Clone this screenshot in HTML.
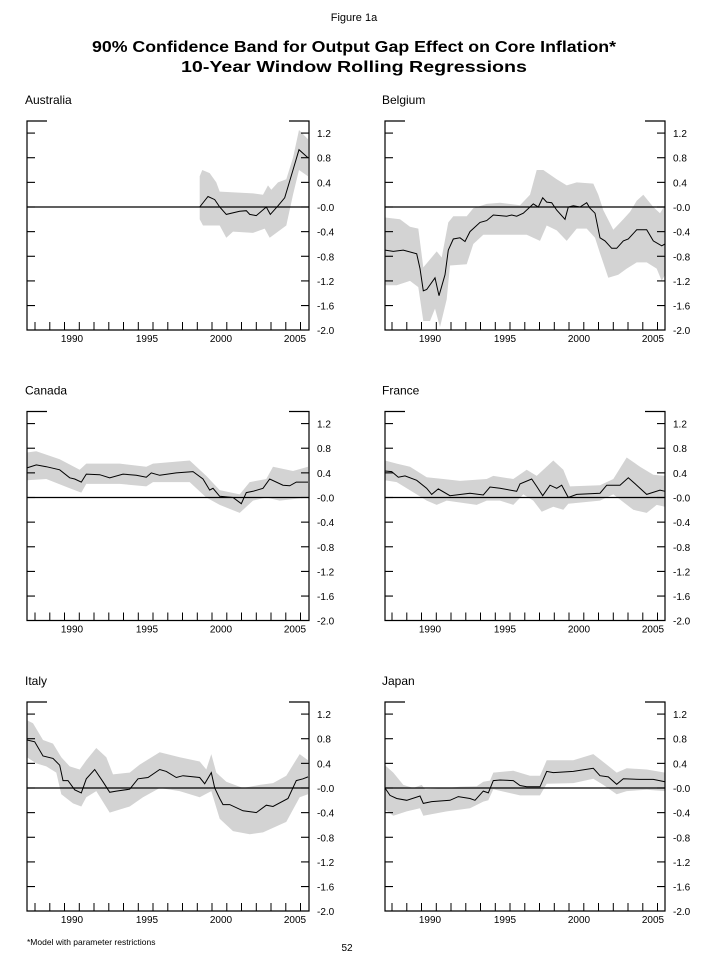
<!DOCTYPE html>
<html><head><meta charset="utf-8"><style>
html,body{margin:0;padding:0;background:#fff;}
svg{display:block;font-family:"Liberation Sans",Arial,sans-serif;}
</style></head><body>
<svg id="s" width="708" height="961" viewBox="0 0 708 961" xmlns="http://www.w3.org/2000/svg">
<text x="354" y="21" font-size="11" text-anchor="middle">Figure 1a</text>
<text x="354" y="52" font-size="16" font-weight="bold" text-anchor="middle" textLength="524" lengthAdjust="spacingAndGlyphs">90% Confidence Band for Output Gap Effect on Core Inflation*</text>
<text x="354" y="72" font-size="16" font-weight="bold" text-anchor="middle" textLength="346" lengthAdjust="spacingAndGlyphs">10-Year Window Rolling Regressions</text>
<text x="27" y="945" font-size="8.5">*Model with parameter restrictions</text>
<text x="347" y="951" font-size="10" text-anchor="middle">52</text>
</svg>
<script>
var S=document.getElementById('s'),NS='http://www.w3.org/2000/svg';
function el(t,a,txt){var e=document.createElementNS(NS,t);for(var k in a)e.setAttribute(k,a[k]);if(txt!=null)e.textContent=txt;S.appendChild(e);return e;}
var panels=[
{name:'Australia',col:0,row:0,
c:[[540,0],[565,.17],[585,.12],[600,0],[620,-.12],[660,-.07],[680,-.06],[690,-.12],[710,-.14],[740,0],[752,-.12],[775,.02],[795,.15],[820,.6],[838,.93],[865,.8]],
u:[[540,.5],[548,.6],[570,.55],[590,.4],[600,.25],[700,.22],[730,.2],[745,.35],[755,.28],[775,.4],[800,.45],[820,.8],[838,1.25],[865,1.1]],
l:[[540,-.2],[550,-.3],[600,-.3],[620,-.5],[640,-.4],[700,-.42],[735,-.35],[750,-.5],[775,-.4],[800,-.3],[820,.2],[838,.6],[865,.5]]},
{name:'Belgium',col:1,row:0,
c:[[75,-.7],[100,-.72],[130,-.7],[170,-.76],[180,-1],[190,-1.36],[200,-1.34],[225,-1.15],[237,-1.44],[255,-1.1],[265,-.7],[280,-.52],[300,-.5],[315,-.56],[330,-.4],[360,-.25],[380,-.22],[400,-.13],[440,-.15],[455,-.13],[470,-.15],[490,-.1],[520,.05],[535,0],[548,.15],[560,.08],[575,.07],[590,-.05],[615,-.2],[625,0],[640,.02],[660,0],[680,.07],[690,-.02],[705,-.1],[720,-.5],[735,-.55],[755,-.67],[770,-.67],[790,-.55],[805,-.52],[830,-.37],[860,-.37],[880,-.55],[905,-.63],[915,-.6]],
u:[[75,-.17],[120,-.2],[150,-.32],[175,-.35],[190,-.98],[230,-.72],[245,-.82],[265,-.25],[280,-.15],[320,-.15],[340,-.02],[380,.05],[420,.07],[480,.03],[510,.2],[530,.6],[550,.6],[590,.45],[620,.35],[650,.4],[700,.38],[715,.2],[730,-.05],[760,-.37],[790,-.2],[810,-.08],[830,.1],[850,.2],[880,0],[900,-.1],[915,.03]],
l:[[75,-1.27],[110,-1.27],[150,-1.2],[175,-1.3],[190,-1.85],[210,-1.85],[225,-1.65],[240,-1.95],[260,-1.5],[270,-.95],[320,-.93],[340,-.6],[370,-.45],[420,-.45],[500,-.45],[540,-.55],[560,-.3],[590,-.38],[620,-.55],[650,-.35],[680,-.35],[705,-.5],[720,-.75],[745,-1.15],[775,-1.1],[800,-1],[830,-.9],[860,-.9],[890,-1],[905,-1.2],[915,-1.1]]},
{name:'Canada',col:0,row:1,
c:[[22,.48],[50,.53],[80,.5],[120,.45],[150,.32],[165,.3],[185,.25],[200,.38],[240,.37],[270,.32],[310,.38],[350,.36],[380,.33],[395,.4],[420,.36],[470,.4],[520,.42],[550,.3],[570,.12],[580,.15],[600,.02],[640,0],[665,-.1],[680,.08],[700,.1],[730,.15],[750,.3],[790,.2],[810,.19],[830,.25],[865,.25]],
u:[[22,.73],[50,.75],[120,.62],[180,.45],[200,.55],[300,.55],[380,.5],[400,.55],[510,.6],[560,.35],[600,.12],[660,.05],[690,.25],[740,.3],[760,.5],[820,.43],[865,.5]],
l:[[22,.28],[80,.3],[150,.15],[185,.08],[200,.22],[300,.22],[380,.18],[400,.25],[510,.25],[560,0],[600,-.12],[660,-.25],[700,-.05],[740,0],[780,-.05],[865,0]]},
{name:'France',col:1,row:1,
c:[[75,.43],[95,.42],[115,.33],[135,.35],[170,.28],[200,.15],[215,.05],[235,.14],[270,.03],[330,.07],[370,.04],[390,.17],[420,.15],[470,.1],[480,.22],[515,.3],[530,.18],[548,.03],[570,.2],[590,.15],[605,.2],[625,0],[650,.05],[720,.07],[740,.2],[780,.2],[805,.32],[830,.2],[860,.05],[900,.12],[915,.1]],
u:[[75,.6],[110,.55],[150,.5],[200,.33],[250,.3],[300,.27],[380,.3],[400,.35],[460,.3],[500,.45],[530,.35],[580,.6],[610,.45],[630,.18],[720,.2],[760,.3],[800,.65],[840,.5],[880,.37],[915,.35]],
l:[[75,.28],[110,.25],[170,.05],[200,-.05],[230,-.12],[260,-.05],[350,-.12],[380,-.05],[420,-.05],[460,-.12],[490,.05],[520,-.05],[545,-.23],[580,-.15],[610,-.2],[625,-.1],[720,-.05],[760,.05],[820,-.2],[860,-.25],[890,-.12],[915,-.15]]},
{name:'Italy',col:0,row:2,
c:[[22,.78],[45,.75],[70,.52],[100,.48],[120,.37],[130,.12],[145,.12],[165,-.03],[185,-.08],[200,.15],[225,.3],[250,.1],[270,-.07],[290,-.05],[330,-.02],[355,.15],[385,.17],[420,.3],[440,.27],[470,.17],[490,.2],[540,.17],[555,.07],[575,.25],[585,0],[600,-.17],[610,-.27],[630,-.27],[670,-.37],[710,-.4],[740,-.28],[760,-.3],[805,-.17],[830,.12],[850,.15],[865,.18]],
u:[[22,1.1],[40,1.05],[70,.78],[100,.72],[125,.5],[150,.35],[180,.3],[200,.45],[230,.65],[260,.5],[280,.22],[330,.25],[360,.38],[420,.58],[480,.5],[540,.43],[560,.3],[575,.55],[590,.25],[620,.1],[670,0],[720,.05],[760,.08],[800,.2],[840,.55],[865,.45]],
l:[[22,.5],[50,.4],[80,.35],[110,.25],[125,-.1],[160,-.25],[185,-.3],[200,-.15],[230,-.05],[270,-.4],[330,-.3],[370,-.15],[420,0],[480,-.05],[540,-.15],[575,-.05],[600,-.5],[640,-.7],[690,-.75],[730,-.72],[800,-.55],[840,-.15],[865,-.1]]},
{name:'Japan',col:1,row:2,
c:[[75,0],[90,-.12],[110,-.17],[140,-.2],[180,-.13],[190,-.25],[215,-.22],[270,-.2],[295,-.14],[330,-.17],[345,-.2],[370,-.05],[385,-.08],[400,.12],[420,.13],[460,.12],[480,.04],[500,.02],[540,.02],[560,.27],[580,.25],[640,.27],[700,.32],[720,.2],[745,.18],[770,.06],[790,.15],[840,.14],[880,.14],[915,.1]],
u:[[75,.37],[100,.25],[130,.05],[160,0],[185,.05],[195,-.02],[260,0],[300,.02],[350,.03],[370,.1],[390,.12],[400,.25],[460,.28],[510,.2],[540,.2],[560,.45],[640,.45],[700,.55],[740,.38],[770,.25],[800,.32],[860,.3],[915,.25]],
l:[[75,-.35],[100,-.45],[140,-.38],[180,-.33],[190,-.45],[260,-.38],[330,-.33],[370,-.22],[385,-.2],[400,-.02],[480,-.12],[540,-.12],[560,.07],[640,.08],[700,.15],[730,.05],[770,-.1],[800,-.05],[860,-.03],[915,-.05]]}
];
var rowOff=[0,290.5,581];
var cols=[{L:27,R:309,a:22,b:868,tick0:35,lab:[72,147,221,295],nx:25},{L:385,R:665,a:75,b:915,tick0:392,lab:[430,505,579,653],nx:382}];
panels.forEach(function(p){
 var C=cols[p.col],off=rowOff[p.row],top=121+off,bot=330+off,zero=207+off;
 function X(z){return C.L+(z-C.a)/(C.b-C.a)*(C.R-C.L);}
 function Y(v){return zero-v*61.6;}
 el('text',{x:C.nx,y:104+off,'font-size':12},p.name);
 var d='M'+p.u.map(function(q){return X(q[0]).toFixed(1)+' '+Y(q[1]).toFixed(1)}).join(' L');
 d+=' L'+p.l.slice().reverse().map(function(q){return X(q[0]).toFixed(1)+' '+Y(q[1]).toFixed(1)}).join(' L')+'Z';
 el('path',{d:d,fill:'#d3d3d3',stroke:'none'});
 el('line',{x1:C.L,x2:C.R,y1:zero,y2:zero,stroke:'#000','stroke-width':1.3});
 el('polyline',{points:p.c.map(function(q){return X(q[0]).toFixed(1)+','+Y(q[1]).toFixed(1)}).join(' '),fill:'none',stroke:'#000','stroke-width':1});
 // frame
 var fr='M'+(C.L+20)+' '+top+' H'+C.L+' V'+bot+' H'+C.R+' V'+top+' H'+(C.R-20);
 el('path',{d:fr,fill:'none',stroke:'#000','stroke-width':1.2});
 for(var i=0;i<=8;i++){
  var v=1.2-0.4*i,y=Y(v);
  if(i<8){el('line',{x1:C.L,x2:C.L+8,y1:y,y2:y,stroke:'#000','stroke-width':1.1});
  el('line',{x1:C.R-8,x2:C.R,y1:y,y2:y,stroke:'#000','stroke-width':1.1});}
  var s=(v>=-0.001)?(i==5?'-0.0':v.toFixed(1)):v.toFixed(1);
  el('text',{x:C.R+8,y:y+4,'font-size':10},s);
 }
 for(var t=C.tick0;t<C.R-2;t+=14.75){el('line',{x1:t.toFixed(1),x2:t.toFixed(1),y1:bot,y2:bot-8,stroke:'#000','stroke-width':1});}
 ['1990','1995','2000','2005'].forEach(function(s,k){el('text',{x:C.lab[k],y:bot+12,'font-size':10,'text-anchor':'middle'},s);});
});
</script>
</body></html>
